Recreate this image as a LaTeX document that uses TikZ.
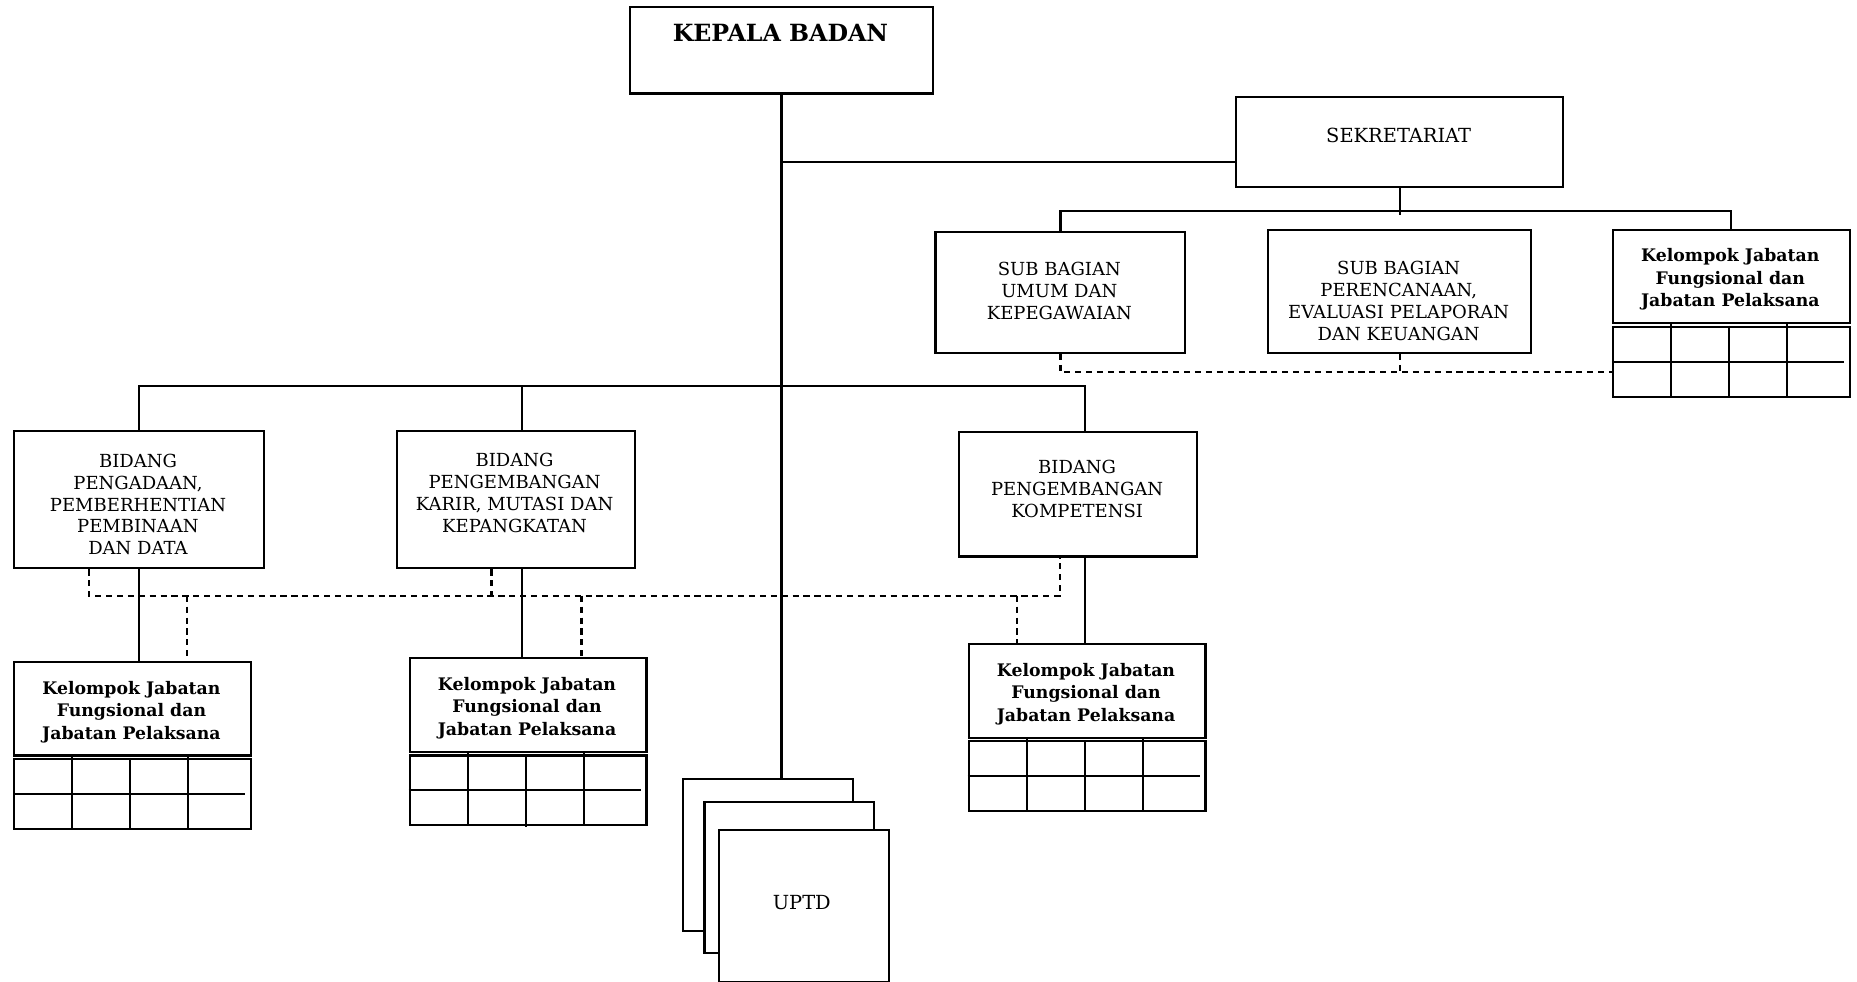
\documentclass[tikz,border=0pt]{standalone}
\usepackage{fontspec}
\setmainfont{DejaVu Serif}
\newcommand\kjbox[3]{%
  \node[box, minimum width=100pt, minimum height=39.5pt] (#1) at (#2,#3) {};
  \node[btxt] (#1t) at (#2+100,#3+43) {Kelompok Jabatan\\Fungsional dan\\Jabatan Pelaksana};
  \node[box, minimum width=100pt, minimum height=29.5pt] (#1g) at (#2,#3+82) {};
  \draw (#1g.west) -- ++(196,0);
  \draw (#2+50,#3+80) -- (#2+50,#3+141);
  \draw (#2+99,#3+82) -- (#2+99,#3+143);
  \draw (#2+148,#3+80) -- (#2+148,#3+141);
}
\begin{document}
\begin{tikzpicture}[x=0.5pt,y=-0.5pt,line width=0.9pt,
  box/.style={draw, rectangle, inner sep=0pt, anchor=north west, fill=white},
  txt/.style={align=center, inner sep=0pt, font=\fontsize{7.6}{9.25}\selectfont},
  btxt/.style={align=center, inner sep=0pt, font=\fontsize{7.3}{9.5}\selectfont\bfseries},
  dsh/.style={dash pattern=on 2.6pt off 2pt, line width=0.9pt}]
\useasboundingbox (0,0) rectangle (1568,829);

% helper coordinates
\coordinate (y137) at (0,137);
\coordinate (y326) at (0,326);
\coordinate (y314) at (0,314);
\coordinate (y503) at (0,503);
\coordinate (vk) at (441,0);
\coordinate (vc) at (916,0);
\coordinate (d1) at (75,0);
\coordinate (d2) at (415,0);
\coordinate (d3) at (895,0);
\coordinate (e1) at (158,0);
\coordinate (e2) at (491,0);
\coordinate (e3) at (859,0);

% main boxes
\node[box, minimum width=128pt, minimum height=36.5pt] (kepala) at (531,5) {};
\node[align=center, inner sep=0pt, font=\fontsize{10}{12}\selectfont\bfseries] (kepalat) at (659,28) {KEPALA BADAN};

\node[box, minimum width=138pt, minimum height=38pt] (sek) at (1043,81) {};
\node[txt, font=\fontsize{8.2}{10}\selectfont] (sekt) at (1181,114) {SEKRETARIAT};

\node[box, minimum width=105.5pt, minimum height=51pt] (sumum) at (789,195) {};
\node[txt] (sumumt) at (894.5,246) {SUB BAGIAN\\UMUM DAN\\KEPEGAWAIAN};

\node[box, minimum width=111pt, minimum height=52pt] (spren) at (1070,193) {};
\node[txt] (sprent) at (1181,254) {SUB BAGIAN\\PERENCANAAN,\\EVALUASI PELAPORAN\\DAN KEUANGAN};

\kjbox{kjtr}{1361}{193}

\node[box, minimum width=105.5pt, minimum height=58pt] (bpeng) at (11,363) {};
\node[txt] (bpengt) at (116.5,426) {BIDANG\\PENGADAAN,\\PEMBERHENTIAN\\PEMBINAAN\\DAN DATA};

\node[box, minimum width=100.5pt, minimum height=58pt] (bkarir) at (334,363) {};
\node[txt] (bkarirt) at (434.5,416) {BIDANG\\PENGEMBANGAN\\KARIR, MUTASI DAN\\KEPANGKATAN};

\node[box, minimum width=100.5pt, minimum height=52.5pt] (bkomp) at (809,364) {};
\node[txt] (bkompt) at (909.5,413) {BIDANG\\PENGEMBANGAN\\KOMPETENSI};

\kjbox{kjl}{11}{558}
\kjbox{kjm}{345}{555}
\kjbox{kjr}{817}{543}

% UPTD stack
\node[box, minimum width=71.5pt, minimum height=64pt] (uptda) at (576,657) {};
\node[box, minimum width=71.5pt, minimum height=64pt] (uptdb) at (594,676) {};
\node[box, minimum width=72pt, minimum height=64pt] (uptdc) at (606,700) {};
\node[txt, font=\fontsize{8.2}{10}\selectfont] (uptdt) at (677,762) {UPTD};

% solid connectors
\draw (kepala.south) -- (kepala.south |- uptda.north);
\draw (kepala.south |- y137) -- (sek.west |- y137);
\draw (sek.south) -- ++(0,23);
\draw (sumum.north) -- ++(0,-17) -| (kjtr.north);
\draw (bpeng.north) |- (vc |- y326) -- (vc |- bkomp.north);
\draw (vk |- y326) -- (vk |- bkarir.north);
\draw (bpeng.south) -- (bpeng.south |- kjl.north);
\draw (vk |- bkarir.south) -- (vk |- kjm.north);
\draw (vc |- bkomp.south) -- (vc |- kjr.north);

% dashed connectors
\draw[dsh] (sumum.south) |- (kjtrg.west |- y314);
\draw[dsh] (spren.south) -- (spren.south |- y314);
\draw[dsh] (d1 |- bpeng.south) |- (d3 |- y503) -- (d3 |- bkomp.south);
\draw[dsh] (d2 |- bkarir.south) -- (d2 |- y503);
\draw[dsh] (e1 |- y503) -- (e1 |- kjl.north);
\draw[dsh] (e2 |- y503) -- (e2 |- kjm.north);
\draw[dsh] (e3 |- y503) -- (e3 |- kjr.north);
\end{tikzpicture}
\end{document}
